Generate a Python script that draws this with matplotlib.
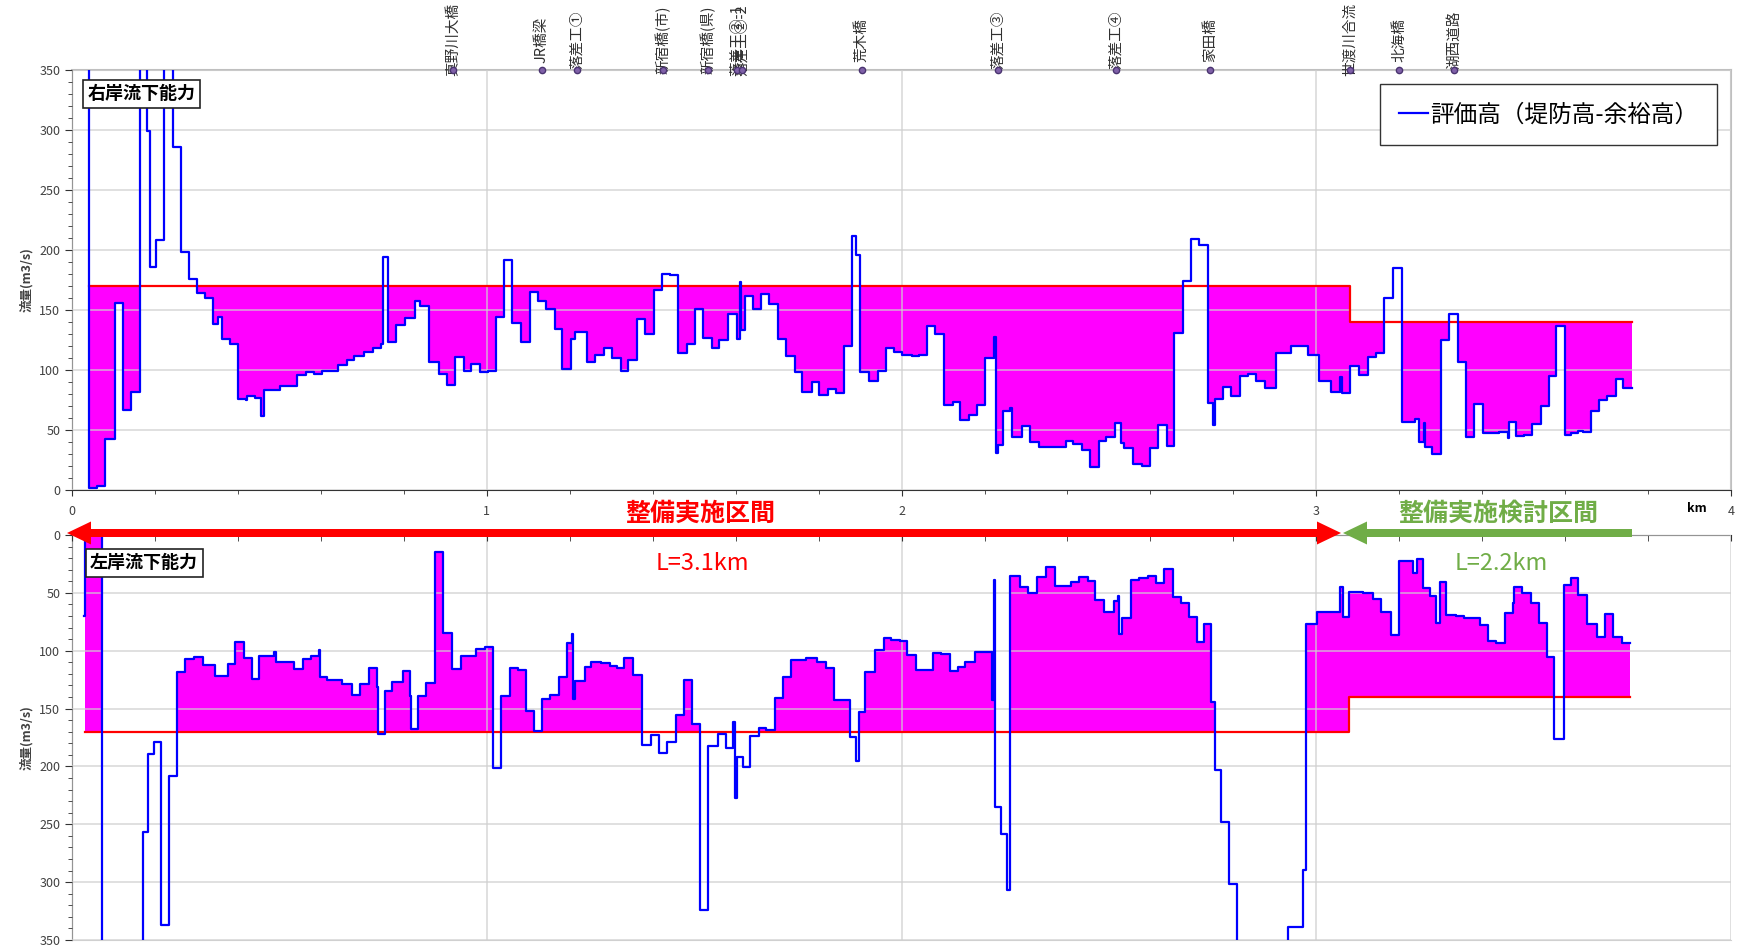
import numpy as np
import matplotlib
matplotlib.use('Agg')
import matplotlib.pyplot as plt
from matplotlib.patches import FancyArrow
from matplotlib.ticker import MultipleLocator

plt.rcParams['font.family'] = ['Noto Sans CJK JP', 'DejaVu Sans']

# ---------------- data ----------------
# right bank (top panel) : evaluation capacity, step values (km, m3/s)
right_km = [0.040, 0.041, 0.060, 0.080, 0.103, 0.122, 0.142, 0.164, 0.181, 0.1876,
            0.202, 0.222, 0.243, 0.262, 0.282, 0.301, 0.320, 0.341, 0.351, 0.361,
            0.381, 0.401, 0.419, 0.423, 0.441, 0.456, 0.462, 0.502, 0.542, 0.564,
            0.583, 0.602, 0.641, 0.663, 0.680, 0.704, 0.725, 0.744, 0.749, 0.762,
            0.781, 0.802, 0.826, 0.839, 0.861, 0.884, 0.904, 0.923, 0.944, 0.962,
            0.983, 1.003, 1.022, 1.041, 1.061, 1.083, 1.103, 1.123, 1.143, 1.164,
            1.181, 1.203, 1.213, 1.241, 1.261, 1.282, 1.301, 1.323, 1.340, 1.362,
            1.382, 1.402, 1.422, 1.441, 1.461, 1.482, 1.501, 1.521, 1.543, 1.561,
            1.581, 1.603, 1.611, 1.614, 1.622, 1.642, 1.662, 1.680, 1.702, 1.721,
            1.742, 1.761, 1.783, 1.801, 1.822, 1.841, 1.861, 1.880, 1.891, 1.901,
            1.921, 1.942, 1.962, 1.981, 2.000, 2.024, 2.043, 2.061, 2.080, 2.102,
            2.123, 2.142, 2.162, 2.181, 2.201, 2.224, 2.228, 2.232, 2.244, 2.262,
            2.267, 2.290, 2.310, 2.332, 2.375, 2.396, 2.413, 2.435, 2.455, 2.476,
            2.493, 2.515, 2.530, 2.536, 2.557, 2.579, 2.600, 2.618, 2.641, 2.658,
            2.678, 2.698, 2.718, 2.738, 2.752, 2.756, 2.774, 2.794, 2.816, 2.835,
            2.855, 2.877, 2.903, 2.939, 2.979, 3.006, 3.035, 3.058, 3.063, 3.082,
            3.104, 3.124, 3.144, 3.162, 3.184, 3.206, 3.238, 3.248, 3.260, 3.263,
            3.280, 3.300, 3.320, 3.341, 3.361, 3.381, 3.401, 3.441, 3.461, 3.465,
            3.481, 3.501, 3.521, 3.541, 3.561, 3.579, 3.599, 3.614, 3.630, 3.642,
            3.662, 3.682, 3.702, 3.722, 3.740, 3.762]
right_q = [400, 2, 3.3, 42.5, 155.5, 67, 82, 400, 299, 186,
           208, 400, 286, 198, 176, 164, 160, 138, 144, 126,
           122, 76, 75, 78, 77, 62, 83, 87, 96, 98,
           97, 99.5, 104, 108, 112, 115, 118, 122, 194, 123,
           137.5, 143, 157.5, 153.6, 107, 97, 87.5, 111, 99, 105,
           98.6, 99.5, 144, 192, 139, 123.6, 165, 157.5, 151, 134,
           100.5, 126, 132, 107, 112.5, 118.6, 110, 99.5, 108, 142.5,
           129.7, 166.7, 180, 179, 114, 122, 151, 127, 118, 125,
           147, 126, 173.6, 133, 161.7, 151, 163, 155, 125.8, 112,
           98.6, 82, 90, 79, 84, 80.5, 120, 211.7, 195.8, 98.6,
           91, 99.4, 118.6, 115, 112.5, 111.7, 112.5, 136.7, 129.7, 70.8,
           73.6, 58.3, 62.5, 70.8, 109.7, 127.8, 30.6, 37.5, 66, 68,
           44.4, 53.6, 39.7, 35.6, 36, 41, 38, 33, 19, 41,
           44.4, 55.6, 39.4, 34.7, 22, 20, 34.7, 54, 36.7, 131,
           174, 209, 204, 72.8, 54, 75.6, 86, 78, 95, 96.4,
           91, 84.7, 114.4, 120, 112.5, 90.8, 82, 94.4, 81, 103,
           95.8, 111, 114.4, 159.7, 184.7, 56.4, 59, 40, 56, 36,
           29.7, 125, 147, 106.4, 44.4, 71.4, 47.2, 48.3, 43, 57,
           45, 45.8, 55, 70, 95, 137, 45.8, 47.2, 49.4, 48,
           66, 75, 78.3, 92.5, 84.7, 84.7]

# left bank (bottom panel)
left_km = [0.030, 0.031, 0.073, 0.172, 0.182, 0.197, 0.215, 0.234, 0.254, 0.273,
           0.295, 0.316, 0.344, 0.375, 0.393, 0.414, 0.434, 0.451, 0.486, 0.492,
           0.535, 0.556, 0.575, 0.596, 0.599, 0.615, 0.652, 0.674, 0.695, 0.716,
           0.735, 0.738, 0.754, 0.772, 0.797, 0.814, 0.818, 0.834, 0.854, 0.875,
           0.894, 0.916, 0.937, 0.975, 0.996, 1.014, 1.035, 1.055, 1.076, 1.094,
           1.115, 1.134, 1.153, 1.174, 1.193, 1.205, 1.209, 1.213, 1.236, 1.252,
           1.276, 1.297, 1.315, 1.331, 1.352, 1.373, 1.395, 1.414, 1.435, 1.457,
           1.475, 1.494, 1.515, 1.534, 1.558, 1.576, 1.594, 1.598, 1.603, 1.617,
           1.635, 1.657, 1.674, 1.694, 1.715, 1.733, 1.770, 1.795, 1.817, 1.838,
           1.875, 1.891, 1.897, 1.913, 1.935, 1.957, 1.974, 1.996, 2.014, 2.035,
           2.077, 2.096, 2.117, 2.136, 2.154, 2.178, 2.217, 2.222, 2.226, 2.239,
           2.255, 2.261, 2.285, 2.306, 2.326, 2.348, 2.369, 2.409, 2.429, 2.449,
           2.467, 2.488, 2.512, 2.521, 2.524, 2.532, 2.552, 2.573, 2.593, 2.613,
           2.633, 2.654, 2.673, 2.694, 2.712, 2.730, 2.745, 2.755, 2.769, 2.789,
           2.809, 2.931, 2.969, 2.976, 3.001, 3.058, 3.064, 3.079, 3.113, 3.137,
           3.155, 3.179, 3.200, 3.232, 3.243, 3.256, 3.274, 3.289, 3.297, 3.313,
           3.337, 3.356, 3.394, 3.414, 3.434, 3.455, 3.474, 3.477, 3.495, 3.517,
           3.538, 3.556, 3.574, 3.596, 3.614, 3.632, 3.653, 3.677, 3.695, 3.716,
           3.736, 3.756]
left_q = [70, -5, 400, 257, 189.6, 179, 337, 208, 118.7, 107,
          105.7, 112.4, 121.6, 111.5, 92.8, 106, 124.5, 104.3, 101.4, 110,
          115.8, 107, 104.3, 99.4, 123, 125.3, 128.8, 138.3, 128.8, 114.7,
          131, 172.3, 134.5, 126.8, 117.5, 139, 168, 138.9, 128.2, 15,
          85, 116, 105, 98.8, 97, 201, 139, 115.2, 116.7, 151.8,
          169.4, 141.7, 138.3, 122.4, 93.6, 86, 141.7, 126, 114.4, 109.5,
          111, 113, 114.7, 106.6, 121, 181.5, 172.9, 188, 179.2, 155.6,
          125.3, 163.6, 324, 182, 172, 183.8, 162, 227, 191.6, 200.8,
          173.7, 167, 168.5, 141, 122.4, 108, 106.6, 109.5, 115.2, 143,
          175, 195.3, 152.7, 118, 99.4, 88.7, 90.8, 91.6, 103.7, 116.7,
          102.3, 103, 117.5, 113.8, 109.5, 100.8, 142.6, 39, 235, 258,
          307, 35.1, 44.7, 50.4, 36, 28, 44, 40.3, 36, 39.5,
          56.2, 66.8, 57, 52.7, 85.9, 72, 38.9, 37.5, 35.1, 41.8,
          29.7, 53.3, 58.5, 70.6, 92.2, 77.2, 144, 203, 247.8, 302,
          400, 338.5, 289.5, 77.2, 66.8, 44.7, 70.6, 49.6, 50.4, 55.3,
          66.8, 86.4, 22.5, 32.6, 20.7, 45.5, 52.7, 76.3, 40.3, 69.1,
          70, 72, 77.8, 91.6, 93.6, 67.1, 59, 45.2, 50.4, 59,
          76.3, 105.2, 176.3, 43.2, 36.9, 51.9, 77.2, 87.9, 68.6, 87.9,
          93.6, 93.6]

# design flow (red line)
right_design_km = [0.041, 3.082, 3.762]
left_design_km = [0.031, 3.079, 3.756]
design_q = [170, 140, 140]

# landmarks along the river (km)
landmark_names = ['真野川大橋', 'JR橋梁', '落差工①', '新宿橋(市)', '新宿橋(県)',
                  '落差工②-1', '落差工②-2', '荒木橋', '落差工③', '落差工④',
                  '家田橋', '世渡川合流', '北海橋', '湖西道路']
landmark_km = [0.918, 1.133, 1.217, 1.424, 1.533, 1.604, 1.616, 1.904, 2.233,
               2.518, 2.744, 3.081, 3.200, 3.332]

x_ticks = [0, 1, 2, 3, 4]
y_ticks = [0, 50, 100, 150, 200, 250, 300, 350]

BLUE = '#0000ff'
RED = '#ff0000'
MAG = '#ff00ff'
GREEN = '#70ad47'
GRID = '#cfcfcf'
TXT = '#404040'


def step_lookup(xs, ys, grid):
    idx = np.searchsorted(np.asarray(xs), grid, side='right') - 1
    idx = np.clip(idx, 0, len(ys) - 1)
    return np.asarray(ys, dtype=float)[idx]


def draw_panel(ax, bx, by, dx, dy):
    grid = np.union1d(bx, dx)
    grid = grid[(grid >= dx[0]) & (grid <= dx[-1])]
    b = step_lookup(bx, by, grid)
    r = step_lookup(dx, dy, grid)
    ax.fill_between(grid, np.minimum(b, r), r, step='post', color=MAG,
                    lw=0, zorder=2)
    ax.step(dx, dy, where='post', color=RED, lw=1.6, zorder=4)
    ln, = ax.step(bx, by, where='post', color=BLUE, lw=1.6, zorder=5)
    ax.set_xlim(0, 4)
    ax.set_xticks(x_ticks)
    ax.xaxis.set_minor_locator(MultipleLocator(0.2))
    ax.set_yticks(y_ticks)
    ax.yaxis.set_minor_locator(MultipleLocator(10))
    ax.set_axisbelow(False)
    ax.grid(True, which='major', color=GRID, lw=1.2, alpha=0.75, zorder=3)
    ax.tick_params(axis='y', which='major', length=5, labelsize=9,
                   labelcolor=TXT, color='#333333')
    ax.tick_params(axis='y', which='minor', length=3, color='#333333')
    ax.set_ylabel('流量(m3/s)', fontsize=9, fontweight='bold', color=TXT,
                  labelpad=4)
    return ln


fig = plt.figure(figsize=(17.44, 9.49), dpi=100)
ax1 = fig.add_axes([0.0413, 0.4837, 0.9513, 0.4425])
ax2 = fig.add_axes([0.0413, 0.0095, 0.9513, 0.4268])

# ---------- top panel (right bank) ----------
line = draw_panel(ax1, right_km, right_q, right_design_km, design_q)
ax1.set_ylim(0, 350)
ax1.tick_params(axis='x', which='major', length=4, labelsize=9,
                labelcolor=TXT, pad=7, color='#333333')
ax1.tick_params(axis='x', which='minor', length=3, color='#333333')
for s in ['left', 'bottom']:
    ax1.spines[s].set_color('#333333')
for s in ['top', 'right']:
    ax1.spines[s].set_color('#bfbfbf')
    ax1.spines[s].set_linewidth(1.5)
ax1.text(3.918, -0.043, 'km', transform=ax1.get_xaxis_transform(),
         ha='center', va='center', fontsize=9, fontweight='bold')

# landmarks
ax1.plot(landmark_km, [350] * len(landmark_km), 'o', color='#7f60a8',
         mec='#4a3470', ms=4.5, clip_on=False, zorder=7)
for name, km in zip(landmark_names, landmark_km):
    ax1.text(km, 1.072, name, transform=ax1.get_xaxis_transform(),
             rotation=90, ha='center', va='center', fontsize=10.5,
             color='#303030')

ax1.text(0.0096, 0.966, '右岸流下能力', transform=ax1.transAxes,
         ha='left', va='top', fontsize=13, fontweight='bold', zorder=8,
         bbox=dict(boxstyle='square,pad=0.25', fc='white', ec='#222222', lw=1.2))

ax1.legend([line], ['評価高（堤防高-余裕高）'], loc='upper right',
           bbox_to_anchor=(0.9915, 0.966), borderaxespad=0, fontsize=17,
           frameon=True, fancybox=False, edgecolor='#333333', framealpha=1,
           handlelength=1.2, handletextpad=0.1, borderpad=0.8)

# ---------- bottom panel (left bank) ----------
draw_panel(ax2, left_km, left_q, left_design_km, design_q)
ax2.set_ylim(350, 0)
ax2.xaxis.tick_top()
ax2.tick_params(axis='x', which='both', labeltop=False, labelbottom=False,
                direction='in', length=4, color='#333333')
for s in ['left', 'top']:
    ax2.spines[s].set_color('#333333')
ax2.spines['right'].set_visible(False)
ax2.spines['bottom'].set_color('#d0d0d0')
ax2.text(0.0109, 0.955, '左岸流下能力', transform=ax2.transAxes,
         ha='left', va='top', fontsize=13, fontweight='bold', zorder=8,
         bbox=dict(boxstyle='square,pad=0.25', fc='white', ec='#222222', lw=1.2))

# ---------- section arrows ----------
H = 9.49


def harrow(x_tail, x_tip, y, color):
    fig.add_artist(FancyArrow(x_tail / 100, H - y / 100, (x_tip - x_tail) / 100, 0,
                              width=0.08, head_width=0.23, head_length=0.24,
                              length_includes_head=True, color=color, lw=0,
                              transform=fig.dpi_scale_trans, zorder=10))


harrow(705, 67, 533, RED)
harrow(700, 1341, 533, RED)
harrow(1632, 1343, 533, GREEN)

fig.text(700 / 1744, 1 - 514 / 949, '整備実施区間', color=RED, fontsize=18,
         fontweight='bold', ha='center', va='center')
fig.text(702 / 1744, 1 - 564 / 949, 'L=3.1km', color=RED, fontsize=17,
         ha='center', va='center')
fig.text(1498 / 1744, 1 - 514 / 949, '整備実施検討区間', color=GREEN, fontsize=18,
         fontweight='bold', ha='center', va='center')
fig.text(1501 / 1744, 1 - 564 / 949, 'L=2.2km', color=GREEN, fontsize=17,
         ha='center', va='center')

fig.savefig('out.png', dpi=100)
